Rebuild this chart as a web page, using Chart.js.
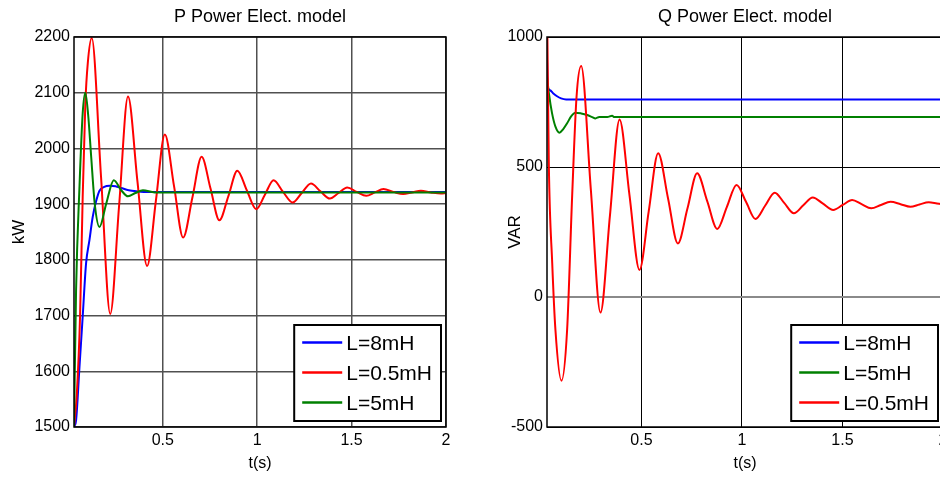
<!DOCTYPE html>
<html>
<head>
<meta charset="utf-8">
<script src="https://cdn.jsdelivr.net/npm/chart.js@4"></script>
<style>
  html, body { margin: 0; padding: 0; background: #fff; overflow: hidden; width: 940px; height: 477px; }
  canvas { position: absolute; top: 0; }
  #pChart { left: 0; }
  #qChart { left: 470px; }
</style>
</head>
<body>
<canvas id="pChart" width="470" height="477"></canvas>
<canvas id="qChart" width="490" height="477"></canvas>
<script>
// tick labels
const xTicks = [0.5, 1, 1.5, 2];
const pTicks = [1500, 1600, 1700, 1800, 1900, 2000, 2100, 2200];
const qTicks = [-500, 0, 500, 1000];

// P power (kW)
const pBlueT = [0.03, 0.041, 0.059, 0.076, 0.094, 0.112, 0.129, 0.147, 0.165, 0.19, 0.218, 0.25, 0.28, 0.32, 0.36, 0.40, 0.45, 2.0];
const pBlueV = [1500, 1512, 1608, 1698, 1794, 1836, 1877, 1905, 1924, 1931, 1933, 1932, 1929, 1925, 1923, 1922, 1922, 1922];

const pRedT = [0.03, 0.045, 0.062, 0.076, 0.09, 0.103, 0.124, 0.173, 0.222, 0.269, 0.316, 0.366, 0.417, 0.464, 0.511, 0.56, 0.608, 0.657, 0.706, 0.753, 0.8, 0.848, 0.895, 0.945, 0.995, 1.041, 1.087, 1.137, 1.188, 1.236, 1.285, 1.335, 1.385, 1.431, 1.477, 1.527, 1.578, 1.623, 1.669, 1.721, 1.773, 1.82, 1.867, 1.92, 1.973, 2.0];
const pRedV = [1500, 1560, 1698, 1913, 2080, 2153, 2198, 1950, 1703, 1898, 2093, 1941, 1789, 1907, 2025, 1932, 1840, 1912, 1985, 1928, 1871, 1915, 1960, 1925, 1891, 1917, 1943, 1922, 1903, 1920, 1937, 1923, 1910, 1920, 1930, 1922, 1915, 1921, 1927, 1922, 1918, 1921, 1924, 1921, 1919, 1920];

const pGreenT = [0.03, 0.041, 0.059, 0.076, 0.09, 0.105, 0.121, 0.14, 0.165, 0.2, 0.241, 0.28, 0.316, 0.355, 0.395, 0.457, 2.0];
const pGreenV = [1500, 1746, 1931, 2063, 2100, 2060, 1985, 1900, 1859, 1900, 1943, 1925, 1914, 1920, 1925, 1921, 1921];

// Q power (VAR)
const qBlueT = [0.03, 0.033, 0.045, 0.06, 0.08, 0.1, 0.125, 2.0];
const qBlueV = [920, 810, 795, 784, 772, 764, 760, 760];

const qGreenT = [0.03, 0.04, 0.055, 0.072, 0.092, 0.11, 0.13, 0.15, 0.172, 0.2, 0.23, 0.255, 0.271, 0.29, 0.33, 0.354, 0.365, 2.0];
const qGreenV = [850, 780, 707, 655, 632, 645, 668, 695, 709, 706, 700, 692, 687, 692, 692, 697, 692, 692];

const qRedT = [0.032, 0.039, 0.056, 0.072, 0.102, 0.13, 0.155, 0.177, 0.2, 0.248, 0.296, 0.343, 0.391, 0.44, 0.49, 0.536, 0.583, 0.632, 0.681, 0.729, 0.777, 0.827, 0.877, 0.925, 0.973, 1.02, 1.067, 1.115, 1.163, 1.21, 1.258, 1.305, 1.352, 1.403, 1.454, 1.501, 1.548, 1.595, 1.643, 1.691, 1.739, 1.789, 1.838, 1.883, 1.929, 1.97, 2.0];
const qRedV = [1000, 514, 130, -127, -322, -127, 386, 770, 888, 414, -60, 312, 683, 394, 104, 329, 553, 380, 206, 341, 476, 369, 262, 347, 431, 366, 300, 351, 401, 362, 322, 353, 383, 359, 335, 354, 373, 357, 341, 354, 366, 357, 347, 356, 364, 360, 357];

const FONT = '"Liberation Sans", Arial, sans-serif';
Chart.defaults.font.family = FONT;
Chart.defaults.color = '#000';

const pts = (t, v) => t.map((x, i) => ({ x, y: v[i] }));

function series(label, color, t, v, order) {
  return {
    label, data: pts(t, v), borderColor: color, backgroundColor: color,
    borderWidth: 2, pointRadius: 0, cubicInterpolationMode: 'monotone', order
  };
}

// frame, title and boxed legend inside the plot
const boxLegend = {
  id: 'boxLegend',
  afterDraw(chart, args, opts) {
    const { ctx, chartArea: a } = chart;
    ctx.save();
    ctx.strokeStyle = '#000';
    ctx.lineWidth = 1.5;
    ctx.strokeRect(a.left, a.top, a.right - a.left, a.bottom - a.top);

    ctx.fillStyle = '#000';
    ctx.font = '18px ' + FONT;
    ctx.textAlign = 'center';
    ctx.textBaseline = 'middle';
    ctx.fillText(opts.title, (a.left + a.right) / 2, 17.5);

    const sets = chart.data.datasets;
    ctx.font = '21px ' + FONT;
    const maxW = Math.max(...sets.map(d => ctx.measureText(d.label).width));
    const w = 8 + 40 + 4 + maxW + 9, h = 96;
    const x0 = a.right - 5 - w, y0 = a.bottom - 6 - h;
    ctx.fillStyle = '#fff';
    ctx.fillRect(x0, y0, w, h);
    ctx.lineWidth = 2;
    ctx.strokeRect(x0, y0, w, h);
    ctx.textAlign = 'left';
    sets.forEach((d, i) => {
      const y = y0 + 17.5 + i * 30;
      ctx.strokeStyle = d.borderColor;
      ctx.lineWidth = 2.5;
      ctx.beginPath();
      ctx.moveTo(x0 + 8, y);
      ctx.lineTo(x0 + 48, y);
      ctx.stroke();
      ctx.fillStyle = '#000';
      ctx.fillText(d.label, x0 + 52, y + 2);
    });
    ctx.restore();
  }
};

function makeChart(id, datasets, opt) {
  return new Chart(document.getElementById(id), {
    type: 'line',
    data: { datasets },
    plugins: [boxLegend],
    options: {
      responsive: false,
      animation: false,
      devicePixelRatio: 1,
      layout: { padding: { top: 37, right: opt.padRight, bottom: 0, left: 0 } },
      plugins: {
        legend: { display: false },
        tooltip: { enabled: false },
        boxLegend: { title: opt.title }
      },
      scales: {
        x: {
          type: 'linear', min: 0.03, max: 2,
          afterBuildTicks: s => { s.ticks = xTicks.map(value => ({ value })); },
          afterFit: s => { s.height = 50; },
          ticks: { font: { size: 16 }, padding: 4, maxRotation: 0, callback: v => String(v) },
          grid: { color: opt.gridColor, lineWidth: opt.gridWidth, drawTicks: false },
          border: { display: false },
          title: { display: true, text: 't(s)', font: { size: 16 }, padding: { top: 0, bottom: 3.4 } }
        },
        y: {
          min: opt.yTicks[0], max: opt.yTicks[opt.yTicks.length - 1],
          afterBuildTicks: s => { s.ticks = opt.yTicks.map(value => ({ value })); },
          afterFit: s => { s.width = opt.yWidth; },
          ticks: { font: { size: 16 }, padding: 4, callback: v => String(v) },
          grid: {
            color: c => (opt.zeroLine && c.tick && c.tick.value === 0) ? '#8a8a8a' : opt.gridColor,
            lineWidth: c => (opt.zeroLine && c.tick && c.tick.value === 0) ? 2 : opt.gridWidth,
            drawTicks: false
          },
          border: { display: false },
          title: { display: true, text: opt.yTitle, font: { size: 17 }, padding: { top: opt.yTitlePad, bottom: 0 } }
        }
      }
    }
  });
}

makeChart('pChart', [
  series('L=8mH', '#0000ff', pBlueT, pBlueV, 3),
  series('L=0.5mH', '#ff0000', pRedT, pRedV, 2),
  series('L=5mH', '#008000', pGreenT, pGreenV, 1)
], { title: 'P Power Elect. model', yTitle: 'kW', yTicks: pTicks, yWidth: 74, yTitlePad: 9, padRight: 24, gridColor: '#505050', gridWidth: 1.5, zeroLine: false });

makeChart('qChart', [
  series('L=8mH', '#0000ff', qBlueT, qBlueV, 3),
  series('L=5mH', '#008000', qGreenT, qGreenV, 2),
  series('L=0.5mH', '#ff0000', qRedT, qRedV, 1)
], { title: 'Q Power Elect. model', yTitle: 'VAR', yTicks: qTicks, yWidth: 77, yTitlePad: 35, padRight: 17, gridColor: '#000', gridWidth: 1, zeroLine: true });
</script>
</body>
</html>
